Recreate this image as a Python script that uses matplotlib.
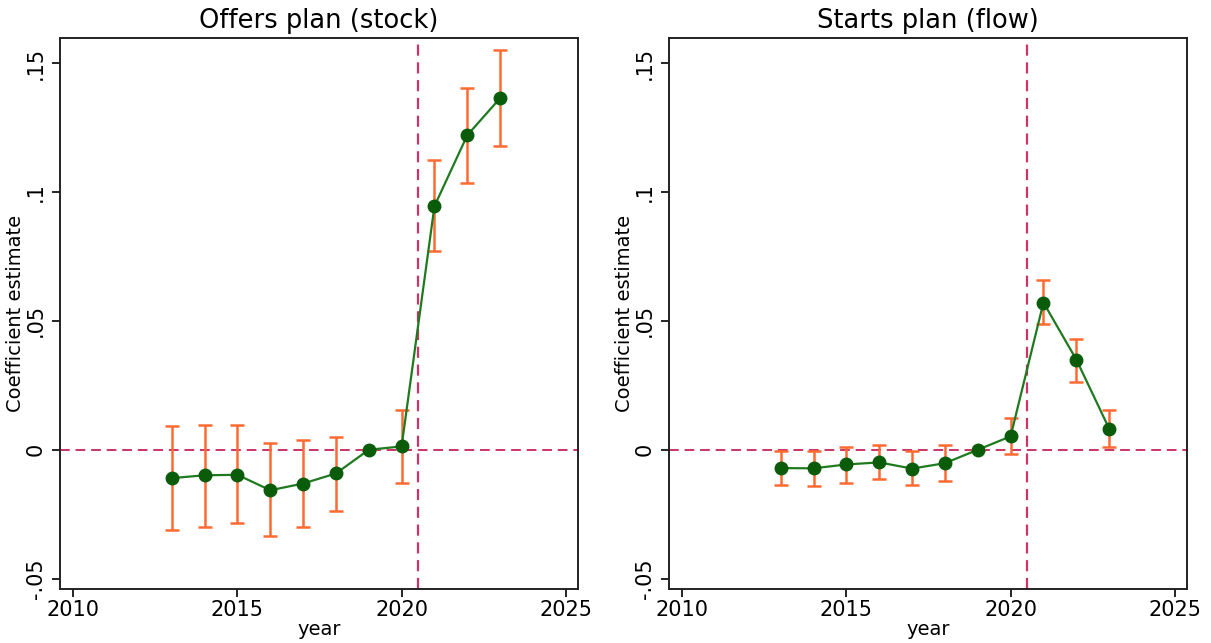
import matplotlib
matplotlib.use("Agg")
import matplotlib.pyplot as plt
import numpy as np

years = [2013, 2014, 2015, 2016, 2017, 2018, 2019, 2020, 2021, 2022, 2023]

offers_coef = [-0.0110, -0.0099, -0.0097, -0.0157, -0.0131, -0.0092, 0.0, 0.0013, 0.0945, 0.1220, 0.1364]
offers_lo = [-0.0313, -0.0298, -0.0285, -0.0335, -0.0298, -0.0237, 0.0, -0.0129, 0.0769, 0.1036, 0.1178]
offers_hi = [0.0094, 0.0097, 0.0097, 0.0025, 0.0038, 0.0051, 0.0, 0.0154, 0.1122, 0.1402, 0.1549]

starts_coef = [-0.0071, -0.0072, -0.0057, -0.0049, -0.0073, -0.0052, 0.0, 0.0052, 0.0571, 0.0350, 0.0082]
starts_lo = [-0.0136, -0.0140, -0.0127, -0.0115, -0.0137, -0.0120, 0.0, -0.0018, 0.0486, 0.0264, 0.0012]
starts_hi = [-0.0005, -0.0004, 0.0012, 0.0019, -0.0006, 0.0019, 0.0, 0.0124, 0.0657, 0.0431, 0.0155]

titles = ["Offers plan (stock)", "Starts plan (flow)"]
xticks = [2010, 2015, 2020, 2025]
yticks = [-0.05, 0, 0.05, 0.1, 0.15]
yticklabels = ["-.05", "0", ".05", ".1", ".15"]
event_year = 2020.5

fig = plt.figure(figsize=(12.11, 6.43), dpi=100)
W, H = 1211, 643
axes_px = [(60, 38, 578, 589), (669, 38, 1187, 589)]

line_col = "#1f7a1f"
mark_col = "#0a5c0a"
err_col = "#ff6a33"
ref_col = "#cc3366"

panels = [(offers_coef, offers_lo, offers_hi), (starts_coef, starts_lo, starts_hi)]
for (x0, y0, x1, y1), title, (c, lo, hi) in zip(axes_px, titles, panels):
    ax = fig.add_axes([x0 / W, 1 - y1 / H, (x1 - x0) / W, (y1 - y0) / H])
    c = np.array(c); lo = np.array(lo); hi = np.array(hi)
    ax.axhline(0, color=ref_col, ls=(0, (5, 3)), lw=1.4, zorder=1)
    ax.axvline(event_year, color=ref_col, ls=(0, (5, 3)), lw=1.6, zorder=1)
    ax.errorbar(years, c, yerr=[c - lo, hi - c], fmt="none", ecolor=err_col,
                elinewidth=1.8, capsize=5, capthick=1.8, zorder=2)
    ax.plot(years, c, color=line_col, lw=1.6, zorder=3)
    ax.plot(years, c, "o", color=mark_col, ms=9, zorder=4)
    ax.set_xlim(2009.6, 2025.37)
    ax.set_ylim(-0.054, 0.1597)
    ax.set_xticks(xticks)
    ax.set_yticks(yticks)
    ax.set_yticklabels(yticklabels, rotation=90, va="center")
    ax.tick_params(labelsize=15, direction="out", length=6, width=1.2)
    ax.tick_params(axis="x", pad=2)
    ax.tick_params(axis="y", pad=4)
    for s in ax.spines.values():
        s.set_linewidth(1.4)
        s.set_color("#222222")
    ax.set_xlabel("year", fontsize=14, labelpad=0)
    ax.set_ylabel("Coefficient estimate", fontsize=14, labelpad=1)
    ax.set_title(title, fontsize=18.5, pad=7)

fig.savefig("out.png", dpi=100, facecolor="white")
